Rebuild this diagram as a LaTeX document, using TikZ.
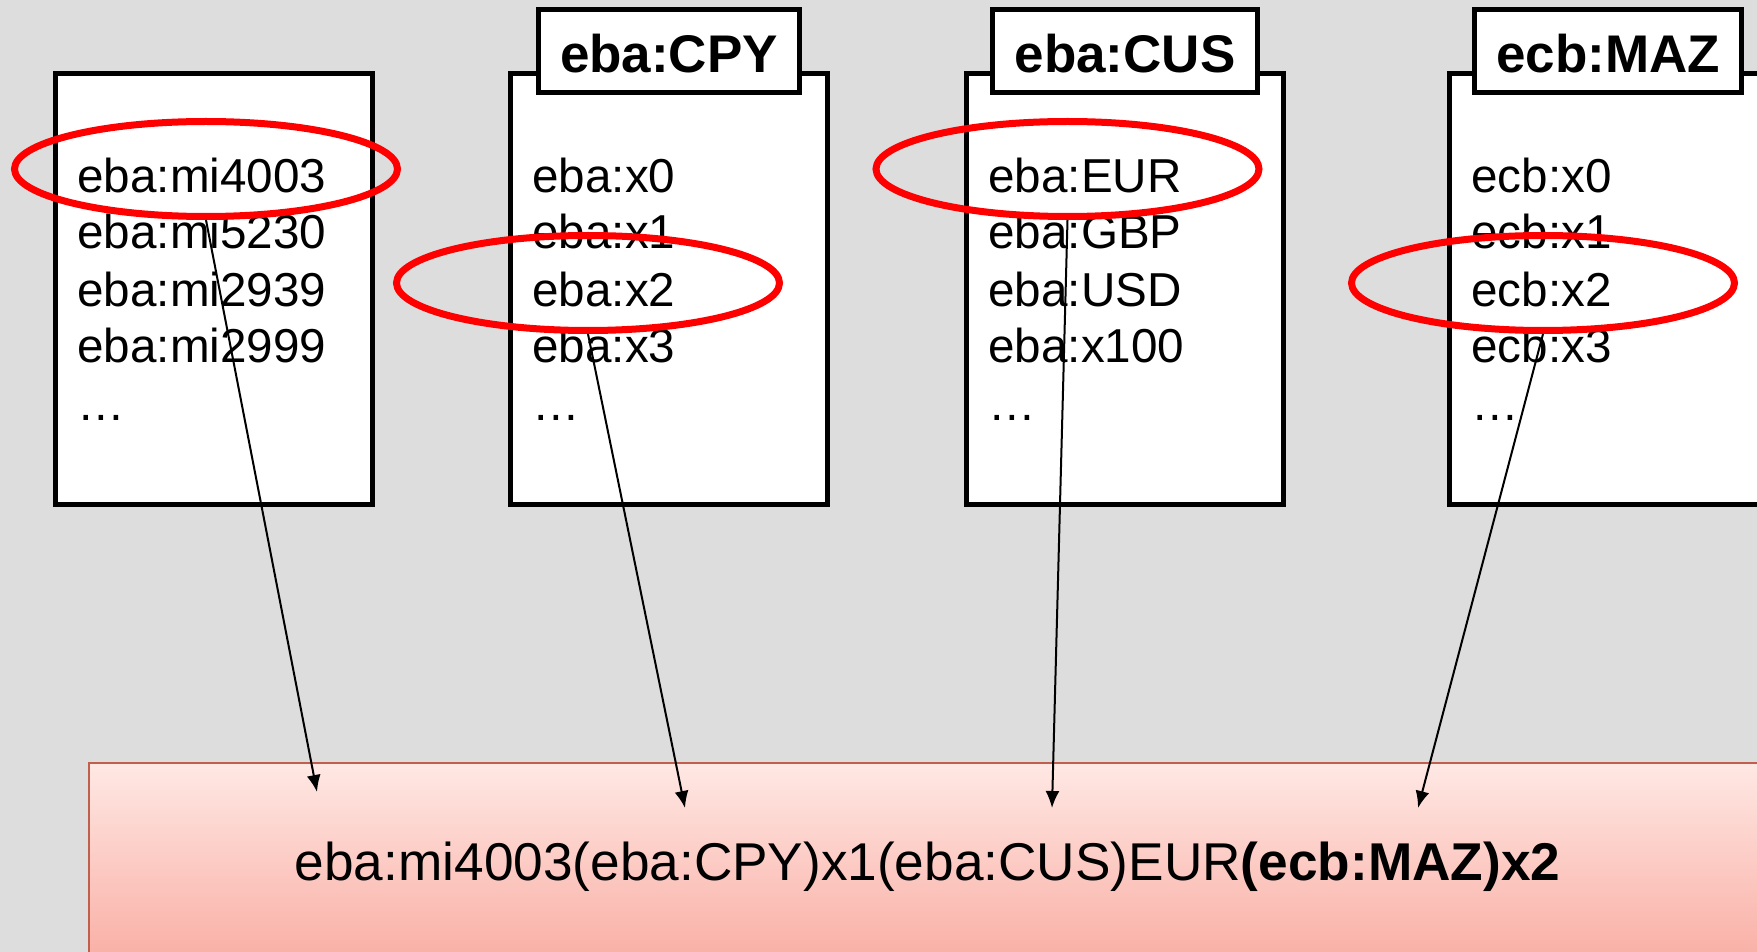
\documentclass[tikz,border=0pt]{standalone}
\usepackage{fontspec}
\setmainfont{Liberation Sans}
\usetikzlibrary{arrows.meta,positioning,shapes.geometric}
\definecolor{bggray}{HTML}{DDDDDD}
\definecolor{ringred}{HTML}{FF0000}
\definecolor{pinktop}{HTML}{FFE8E4}
\definecolor{pinkbot}{HTML}{F9AFA5}
\definecolor{pinkedge}{HTML}{C0604C}

\begin{document}
\begin{tikzpicture}[->,>={Latex[length=8.5pt,width=7pt]},x=0.5pt,y=-0.5pt,
                    line width=1pt]
  \tikzstyle{listbox}=[draw,fill=white,line width=2.5pt,outer sep=0pt,
                       minimum width=158.5pt,minimum height=215.5pt]
  \tikzstyle{tab}=[draw,fill=white,line width=2.5pt,outer sep=0pt,
                   inner xsep=11pt,inner ysep=0pt,text height=31.75pt,
                   text depth=9.75pt,font=\fontsize{26.5}{30}\selectfont\bfseries]
  \tikzstyle{entries}=[anchor=base west,align=left,inner sep=0pt,
                       font=\fontsize{23.8}{28.5}\selectfont]
  \tikzstyle{ring}=[ellipse,draw=ringred,line width=3.5pt,
                    minimum width=191.5pt,minimum height=47.5pt]
  \tikzstyle{result}=[anchor=base,inner sep=0pt,
                      font=\fontsize{26.6}{30}\selectfont]

  \path[use as bounding box,fill=bggray] (0,0) rectangle (1757,952);
  \clip (0,0) rectangle (1757,952);

  % target box
  \draw[pinkedge,top color=pinktop,bottom color=pinkbot] (89,763) rectangle (1770,960);
  \node[result] (R) at (927.5,880)
       {eba:mi4003(eba:CPY)x1(eba:CUS)EUR\textbf{(ecb:MAZ)x2}};

  % dimension lists
  \node[listbox]        (B1) at (214,289)  {};
  \node[listbox]        (B2) at (669,289)  {};
  \node[listbox]        (B3) at (1125,289) {};
  \node[listbox]        (B4) at (1608,289) {};
  \node[tab]            (T2) [above=-9.5pt of B2.north] {eba:CPY};
  \node[tab]            (T3) [above=-9.5pt of B3.north] {eba:CUS};
  \node[tab]            (T4) [above=-9.5pt of B4.north] {ecb:MAZ};

  % base anchor sits on the last line (the dots)
  \node[entries] (L1) at ([shift={(21,346.5)}]B1.north west)
       {eba:mi4003\\eba:mi5230\\eba:mi2939\\eba:mi2999\\…};
  \node[entries] (L2) at ([shift={(21,346.5)}]B2.north west)
       {eba:x0\\eba:x1\\eba:x2\\eba:x3\\…};
  \node[entries] (L3) at ([shift={(21,346.5)}]B3.north west)
       {eba:EUR\\eba:GBP\\eba:USD\\eba:x100\\…};
  \node[entries] (L4) at ([shift={(21,346.5)}]B4.north west)
       {ecb:x0\\ecb:x1\\ecb:x2\\ecb:x3\\…};

  % selected members
  \node[ring] (E1) at (206,169)    {};
  \node[ring] (E2) at (588,283)    {};
  \node[ring] (E3) at (1067.5,169) {};
  \node[ring] (E4) at (1543,283)   {};

  \coordinate (P1) at (317,792);
  \coordinate (P2) at (685,808);
  \coordinate (P3) at (1052,808);
  \coordinate (P4) at (1418,808);

  \path (E1.south) edge (P1)
        (E2.south) edge (P2)
        (E3.south) edge (P3)
        (E4.south) edge (P4);
\end{tikzpicture}
\end{document}
